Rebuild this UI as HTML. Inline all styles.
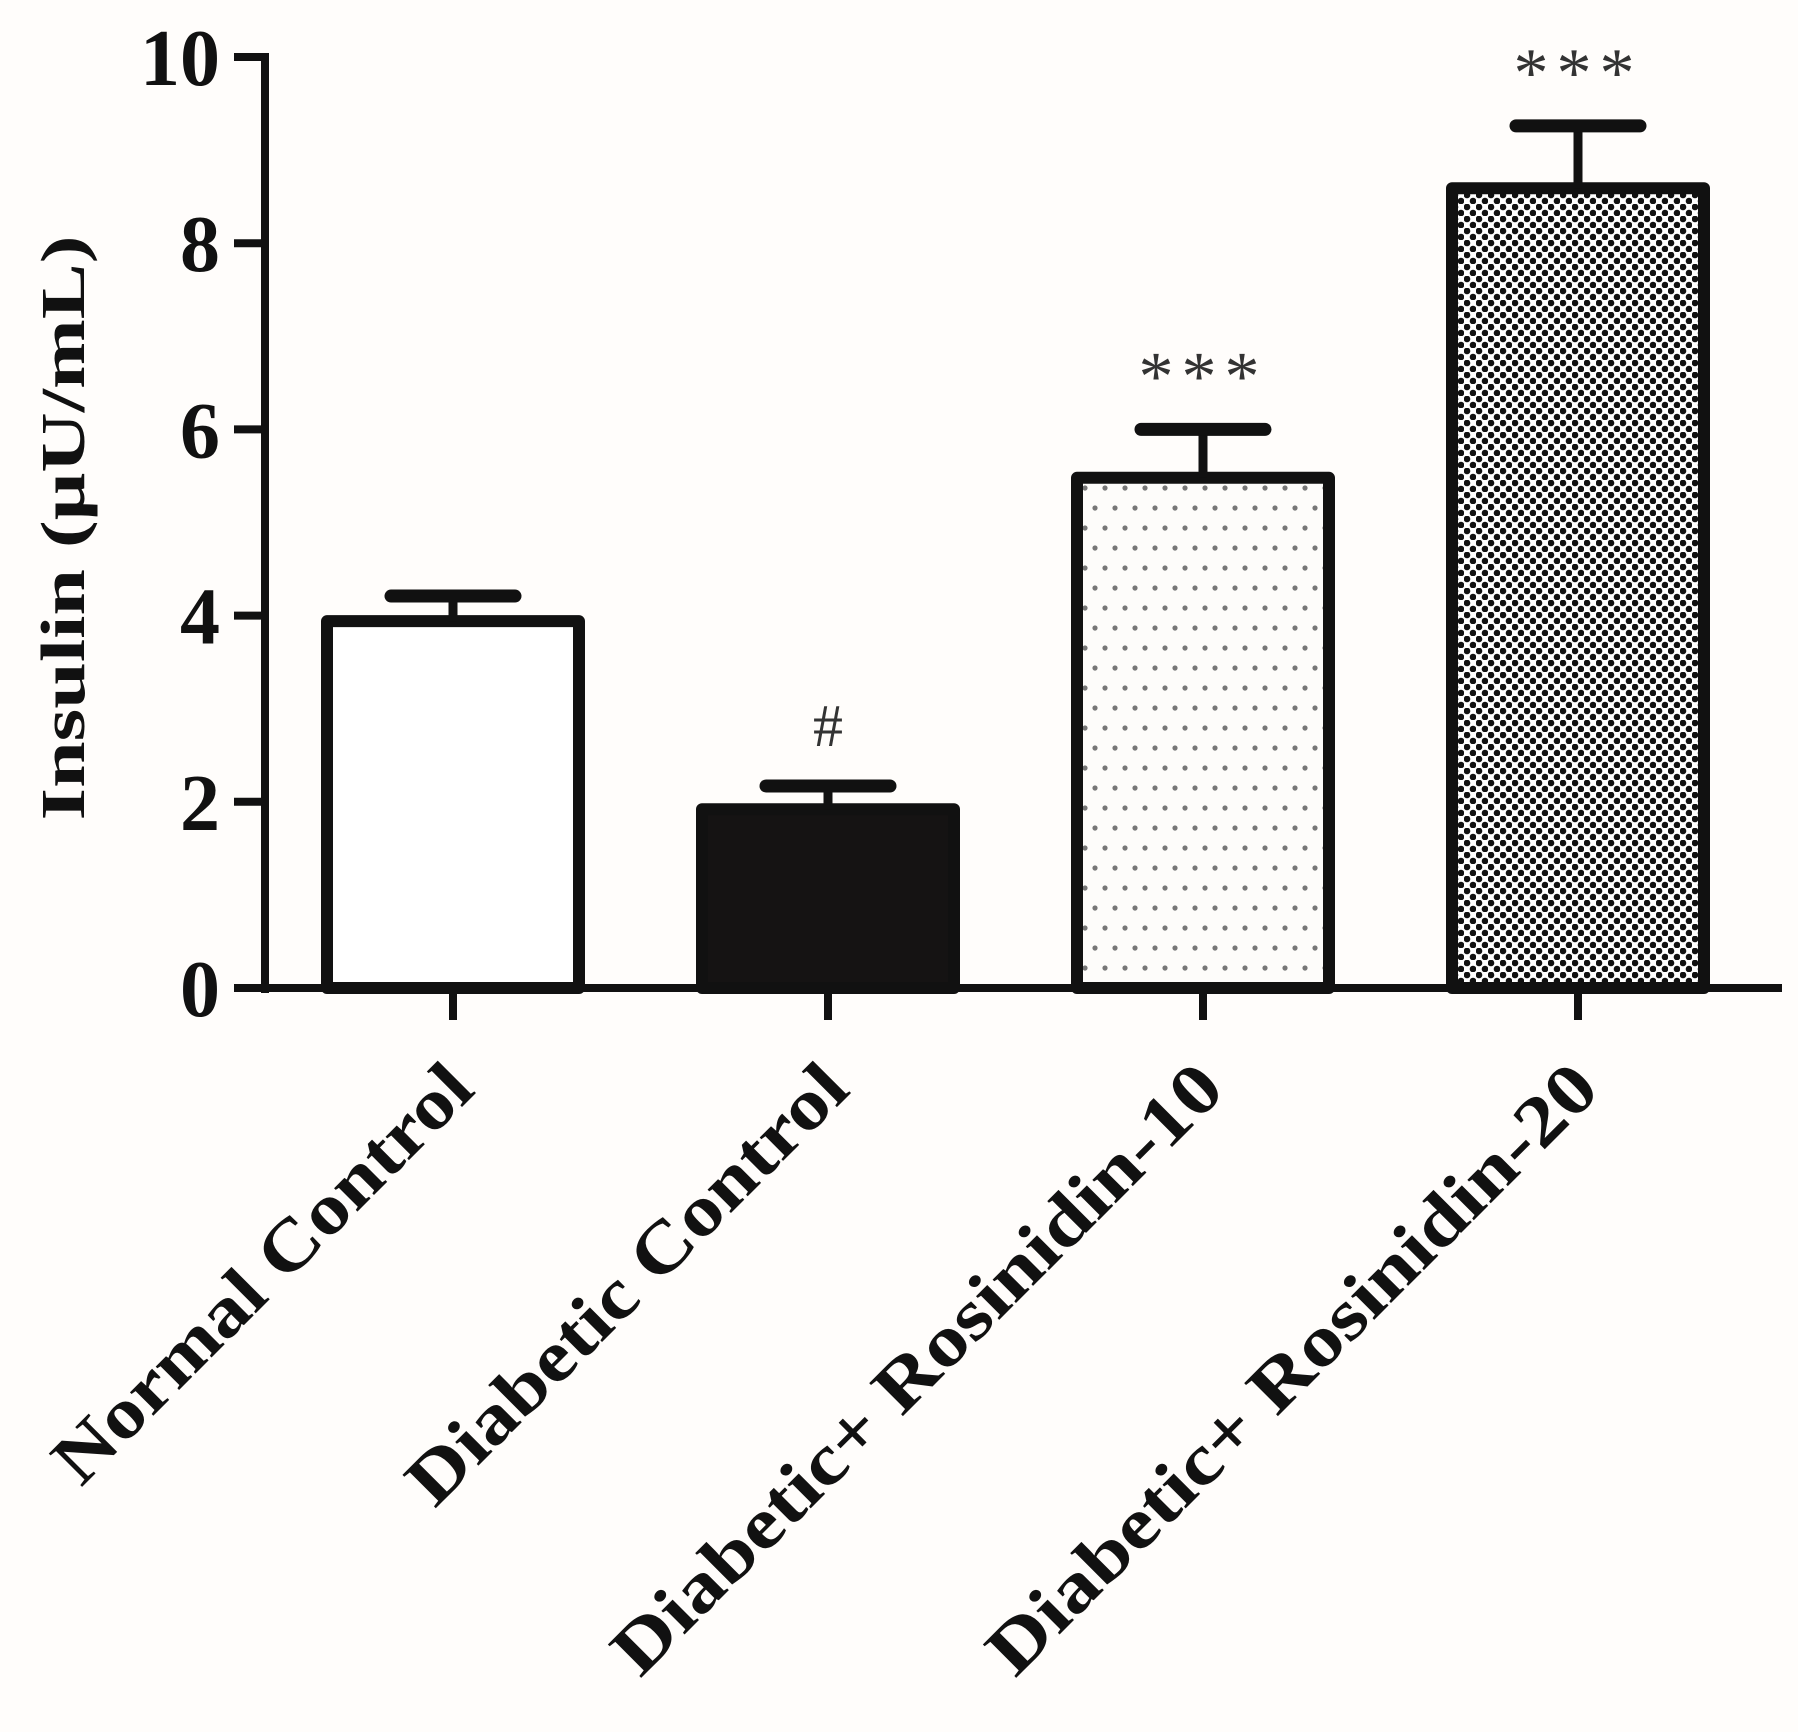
<!DOCTYPE html>
<html><head><meta charset="utf-8"><style>
html,body{margin:0;padding:0;background:#fffdfb;}
svg{display:block;}
text{font-family:"Liberation Serif",serif;font-weight:bold;fill:#111;}
</style></head><body>
<svg id="chart" width="1798" height="1732" viewBox="0 0 1798 1732">
<defs>
<pattern id="sparse" width="20" height="40" patternUnits="userSpaceOnUse">
<rect width="20" height="40" fill="#fdfcfa"/>
<circle cx="5" cy="8" r="2.6" fill="#777"/>
<circle cx="15" cy="28" r="2.6" fill="#777"/>
</pattern>
<pattern id="dense" width="12" height="12" patternUnits="userSpaceOnUse">
<rect width="12" height="12" fill="#fff"/>
<circle cx="3" cy="3" r="3.3" fill="#111"/>
<circle cx="9" cy="9" r="3.3" fill="#111"/>
</pattern>
</defs>
<g id="plot"></g>
</svg>
<script>
const categories = ["Normal Control","Diabetic Control","Diabetic+ Rosinidin-10","Diabetic+ Rosinidin-20"];
const means = [3.94, 1.92, 5.48, 8.59];
const errors = [0.27, 0.25, 0.52, 0.67];
const marks = ["", "#", "***", "***"];
const yTicks = [0, 2, 4, 6, 8, 10];

const NS = "http://www.w3.org/2000/svg";
const g = document.getElementById("plot");
const y0 = 988, yPerUnit = 93.1;
const axisX = 265;
const firstCenter = 453, step = 375, barW = 252;
function yScale(v){ return y0 - v * yPerUnit; }
function xScale(i){ return firstCenter + i * step; }
function mk(tag, attrs, parent){ const e = document.createElementNS(NS, tag); for (const k in attrs) e.setAttribute(k, attrs[k]); (parent||g).appendChild(e); return e; }

const fills = ["#fff", "#151313", "url(#sparse)", "url(#dense)"];
const labelLens = [560, 590, 830, 830];

categories.forEach((c, i) => {
  const cx = xScale(i), top = yScale(means[i]);
  const bar = mk("rect", {x: cx - barW/2, y: top, width: barW, height: y0 - top, fill: fills[i], stroke: "#111", "stroke-width": 12, "stroke-linejoin": "round"});
  
  
  const capY = yScale(means[i] + errors[i]);
  const ev = mk("line", {x1: cx, x2: cx, y1: top, y2: capY, stroke: "#111", "stroke-width": 9});
  
  
  const cap = mk("line", {x1: cx - 62, x2: cx + 62, y1: capY, y2: capY, stroke: "#111", "stroke-width": 13, "stroke-linecap": "round"});
  
  
  if (marks[i]) {
    const isHash = marks[i] === "#";
    const t = mk("text", {x: cx, y: capY - (isHash ? 40 : 30), "text-anchor": "middle", "font-size": isHash ? 60 : 70, style: "font-weight:normal;fill:#333;letter-spacing:" + (isHash ? 0 : 8) + "px"});
    t.textContent = marks[i];
    
    
  }
  const tk = mk("line", {x1: cx, x2: cx, y1: y0, y2: y0 + 32, stroke: "#111", "stroke-width": 8});
  
  
  const lx = cx + 24, ly = y0 + 104;
  const lbl = mk("text", {x: lx, y: ly, "text-anchor": "end", "font-size": 72, textLength: labelLens[i], lengthAdjust: "spacingAndGlyphs", transform: "rotate(-45 " + lx + " " + ly + ")"});
  lbl.textContent = c;
  
  
});

const ya = mk("line", {x1: axisX, x2: axisX, y1: yScale(10) - 4, y2: y0 + 5, stroke: "#111", "stroke-width": 8});


const xa = mk("line", {x1: 234, x2: 1782, y1: y0, y2: y0, stroke: "#111", "stroke-width": 8});



yTicks.forEach(v => {
  const yy = yScale(v);
  const t = mk("line", {x1: 234, x2: axisX, y1: yy, y2: yy, stroke: "#111", "stroke-width": 8});
  
  
  const l = mk("text", {x: 220, y: yy + 28, "text-anchor": "end", "font-size": 80});
  l.textContent = v;
  
  
});

const yt = mk("text", {x: 0, y: 0, "text-anchor": "middle", "font-size": 62, textLength: 585, lengthAdjust: "spacingAndGlyphs", transform: "translate(84 528) rotate(-90)"});
yt.textContent = "Insulin (μU/mL)";


</script>
</body></html>
